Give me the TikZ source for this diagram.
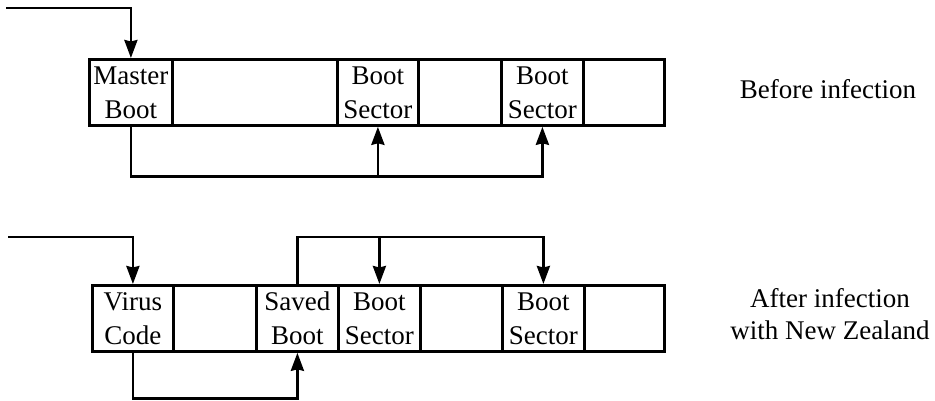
\documentclass[tikz,border=0pt]{standalone}
\usepackage{fontspec}
\setmainfont{Liberation Serif}
\usetikzlibrary{arrows.meta}
\begin{document}
\begin{tikzpicture}[x=1pt,y=-1pt,
  wire/.style={line width=2.8pt},
  arr/.style={wire,-{Stealth[length=18pt,width=13pt,inset=1.5pt]}},
  cell/.style={draw,line width=2.8pt,anchor=north west,inner sep=0pt,
    minimum height=66pt,align=center,font=\fontsize{27}{34}\selectfont},
  note/.style={align=center,font=\fontsize{27}{32}\selectfont}]
\useasboundingbox (0,0) rectangle (935,400);

% disk layout before infection
\node[cell,minimum width=83pt] (t1) at (88,58)  {Master\\Boot};
\node[cell,minimum width=165pt] (t2) at (171,58) {};
\node[cell,minimum width=81pt] (t3) at (336,58) {Boot\\Sector};
\node[cell,minimum width=83pt] (t4) at (417,58) {};
\node[cell,minimum width=82pt] (t5) at (500,58) {Boot\\Sector};
\node[cell,minimum width=81pt] (t6) at (582,58) {};

% disk layout after infection
\node[cell,minimum width=81pt] (b1) at (91,284)  {Virus\\Code};
\node[cell,minimum width=83pt] (b2) at (172,284) {};
\node[cell,minimum width=82pt] (b3) at (255,284) {Saved\\Boot};
\node[cell,minimum width=82pt] (b4) at (337,284) {Boot\\Sector};
\node[cell,minimum width=82pt] (b5) at (419,284) {};
\node[cell,minimum width=82pt] (b6) at (501,284) {Boot\\Sector};
\node[cell,minimum width=80pt] (b7) at (583,284) {};

% captions
\node[note] (before) at (828,89) {Before infection};
\node[note] (after) at (830,314) {After infection\\with New Zealand};

% entry points
\coordinate (inA) at (6,8);
\coordinate (inB) at (8,237);
\draw[arr] (inA) -| (t1.north);
\draw[arr] (inB) -| (b1.north);

% boot chain before infection
\draw[arr] (t1.south) -- ++(0,50) -| (t3.south);
\draw[arr] (t1.south) -- ++(0,50) -| (t5.south);

% boot chain after infection
\draw[arr] (b1.south) -- ++(0,46) -| (b3.south);
\draw[arr] (b3.north) -- ++(0,-47) -| (b4.north);
\draw[arr] (b3.north) -- ++(0,-47) -| (b6.north);
\end{tikzpicture}
\end{document}
